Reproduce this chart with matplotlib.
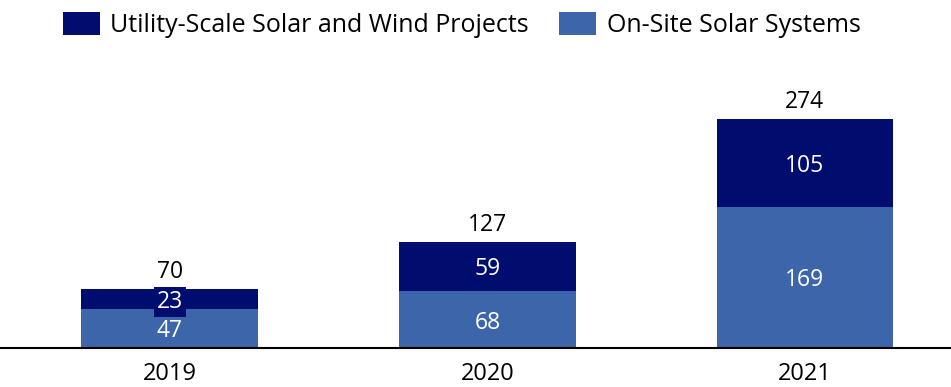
import numpy as np
import matplotlib.pyplot as plt

plt.rcParams['font.family'] = ['Open Sans', 'DejaVu Sans']

years = ['2019', '2020', '2021']
onsite = [47, 68, 169]
utility = [23, 59, 105]
totals = [a + b for a, b in zip(onsite, utility)]

navy = '#000c6e'
blue = '#3d66aa'

fig = plt.figure(figsize=(9.51, 3.87), dpi=100)
ax = fig.add_axes([0, 0.1008, 1, 0.6912])

x = np.arange(len(years))
w = 0.557
b1 = ax.bar(x, onsite, w, color=blue, label='On-Site Solar Systems')
b2 = ax.bar(x, utility, w, bottom=onsite, color=navy,
            label='Utility-Scale Solar and Wind Projects')

fs = 16.5
for i in range(len(years)):
    ax.text(x[i], onsite[i] / 2, str(onsite[i]), ha='center',
            va='center_baseline', color='white', fontsize=fs)
    box = None
    if utility[i] < 30:
        box = dict(boxstyle='square,pad=0.12', facecolor=navy, edgecolor='none')
    ax.text(x[i], onsite[i] + utility[i] / 2, str(utility[i]), ha='center',
            va='center_baseline', color='white', fontsize=fs, bbox=box)
    ax.text(x[i], totals[i] + 6, str(totals[i]), ha='center', va='bottom',
            color='black', fontsize=fs)

ax.set_xlim(-0.535, 2.46)
ax.set_ylim(0, 320)
ax.set_xticks(x)
ax.set_xticklabels(years, fontsize=17)
ax.tick_params(axis='x', length=0, pad=10)
ax.set_yticks([])
for s in ['top', 'right', 'left']:
    ax.spines[s].set_visible(False)
ax.spines['bottom'].set_linewidth(1.5)

leg = fig.legend(handles=[b2, b1], loc='upper left', ncol=2, frameon=False,
                 fontsize=18, bbox_to_anchor=(63 / 951, 1 - 12 / 387),
                 borderpad=0, borderaxespad=0, handlelength=1.48,
                 handleheight=1.05, handletextpad=0.42, columnspacing=1.2)

fig.savefig('out.png', dpi=100)
